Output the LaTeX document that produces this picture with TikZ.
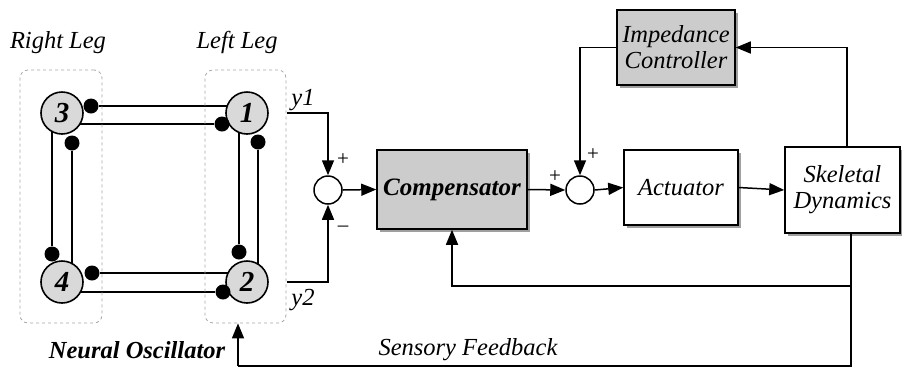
\documentclass[tikz,border=0pt]{standalone}
\usepackage{fontspec}
\setmainfont{Liberation Serif}
\usetikzlibrary{arrows.meta,shadows,backgrounds}
\begin{document}
\begin{tikzpicture}[x=1pt,y=-1pt,
  txt/.style={font=\fontsize{24.5}{26}\selectfont\itshape, inner sep=0pt},
  btxt/.style={font=\fontsize{24.5}{26}\selectfont\bfseries\itshape, inner sep=0pt},
  sgn/.style={font=\fontsize{21}{22}\selectfont, inner sep=0pt},
  neuron/.style={circle, draw, line width=1.6pt, fill=gray!30, minimum size=42pt, inner sep=0pt, font=\fontsize{29}{30}\selectfont\bfseries\itshape},
  syn/.style={circle, fill=black, minimum size=15pt, inner sep=0pt},
  legbox/.style={draw=gray!70, dashed, rounded corners=8pt, line width=0.8pt, inner sep=0pt},
  link/.style={line width=1.5pt},
  wire/.style={line width=1.5pt},
  arr/.style={line width=1.5pt, -{Triangle[length=15pt,width=12pt]}},
  summer/.style={circle, draw, line width=1.5pt, fill=white, minimum size=28pt, inner sep=0pt},
  block/.style={draw, line width=1.5pt, fill=white, inner sep=0pt, align=center, font=\fontsize{24.5}{26}\selectfont\itshape,
     drop shadow={shadow xshift=3pt, shadow yshift=-3pt, fill=gray!75, opacity=1}},
  gblock/.style={block, fill=gray!40}
]
\useasboundingbox (0,0) rectangle (902,368);

% leg groups
\node[legbox, minimum width=82pt, minimum height=253pt] (rl) at (61,196.5) {};
\node[legbox, minimum width=81pt, minimum height=253pt] (ll) at (245.5,196.5) {};
\node[txt] (rlt) at (58,43) {Right Leg};
\node[txt] (llt) at (237,42) {Left Leg};

% neurons
\node[neuron] (c3) at (62,113) {3};
\node[neuron] (c1) at (247,113) {1};
\node[neuron] (c4) at (62,282) {4};
\node[neuron] (c2) at (247,282) {2};

% synapses
\node[syn] (d3a) at (91,106) {};
\node[syn] (d1a) at (222,124) {};
\node[syn] (d3b) at (72,143) {};
\node[syn] (d4a) at (52,254) {};
\node[syn] (d1b) at (258,142) {};
\node[syn] (d2a) at (239,252) {};
\node[syn] (d4b) at (92,273) {};
\node[syn] (d2b) at (223,292) {};

\begin{pgfonlayer}{background}
\draw[link] (d3a) -- (d3a -| c1);
\draw[link] (d1a) -- (d1a -| c3);
\draw[link] (d3b) -- (d3b |- c4);
\draw[link] (d4a) -- (d4a |- c3);
\draw[link] (d1b) -- (d1b |- c2);
\draw[link] (d2a) -- (d2a |- c1);
\draw[link] (d4b) -- (d4b -| c2);
\draw[link] (d2b) -- (d2b -| c4);
\end{pgfonlayer}

% outputs
\node[txt] (y1) at (303,100) {y1};
\node[txt] (y2) at (303,300) {y2};
\coordinate (y1s) at (287,113);
\coordinate (y2s) at (287,282);
\node[summer] (s1) at (328,190) {};
\draw[arr] (y1s) -| (s1.north);
\draw[arr] (y2s) -| (s1.south);
\node[sgn] (p1) at (343,160) {+};
\node[sgn] (m1) at (343,229) {\textendash};

% blocks
\node[gblock, minimum width=150pt, minimum height=79pt, font=\fontsize{25}{26}\selectfont\bfseries\itshape] (comp) at (452,189.5) {Compensator};
\node[summer] (s2) at (580,190) {};
\node[block, minimum width=114pt, minimum height=75pt] (act) at (681,187.5) {Actuator};
\node[block, minimum width=115pt, minimum height=86pt] (skel) at (842.5,190) {Skeletal\\Dynamics};
\node[gblock, minimum width=118pt, minimum height=75pt] (imp) at (676,47.5) {Impedance\\Controller};
\node[sgn] (p2) at (555,177) {+};
\node[sgn] (p3) at (593,155) {+};

\draw[arr] (s1.east) -- (comp.west);
\draw[arr] (comp.east) -- (s2.west);
\draw[arr] (s2.east) -- (act.west);
\draw[arr] (act.east) -- (skel.west);
\draw[arr] ([xshift=4.5pt]skel.north) |- (imp.east);
\draw[arr] (imp.west) -| (s2.north);

% feedback
\coordinate (fbj) at (851,286);
\coordinate (fbb) at (851,366);
\coordinate (fbl) at (238,366);
\draw[wire] ([xshift=8.5pt]skel.south) -- (fbb) -- (fbl);
\draw[arr] (fbj) -| (comp.south);
\draw[arr] (fbl) -- (fbl |- ll.south);

\node[btxt] (no) at (137,350) {Neural Oscillator};
\node[txt] (sf) at (468,350) {Sensory Feedback};
\end{tikzpicture}
\end{document}
